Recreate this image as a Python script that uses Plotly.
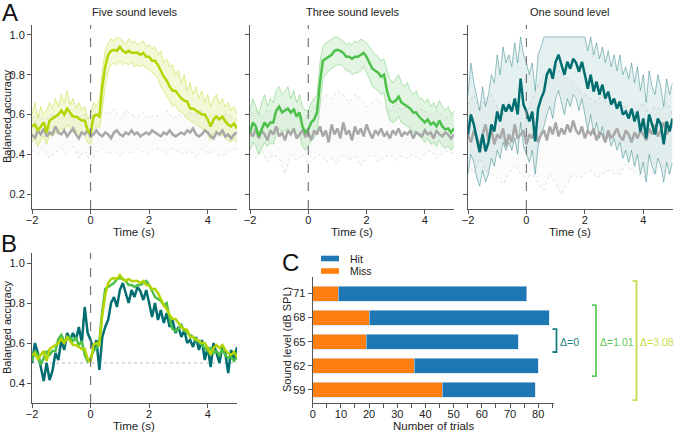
import numpy as np
import plotly.graph_objects as go

# time grids (s)
t = np.round(np.linspace(-2, 5, 71), 2)
t2 = np.round(np.linspace(-2, 5, 36), 2)

# mean balanced accuracy, one array per condition
five_mean = [0.54, 0.55, 0.52, 0.54, 0.56, 0.51, 0.57, 0.58, 0.59, 0.60, 0.62,
             0.60, 0.63, 0.61, 0.59, 0.59, 0.58, 0.57, 0.57, 0.52, 0.505,
             0.59, 0.60, 0.59, 0.74, 0.84, 0.90, 0.92, 0.925, 0.92, 0.94,
             0.92, 0.91, 0.92, 0.91, 0.91, 0.91, 0.90, 0.91, 0.89, 0.89,
             0.87, 0.87, 0.85, 0.82, 0.79, 0.77, 0.74, 0.72, 0.72, 0.70,
             0.68, 0.67, 0.665, 0.63, 0.63, 0.62, 0.61, 0.60, 0.60, 0.575,
             0.54, 0.575, 0.59, 0.575, 0.59, 0.565, 0.55, 0.54, 0.555, 0.53]
three_mean = [0.51, 0.56, 0.54, 0.49, 0.525, 0.56, 0.54, 0.56, 0.56, 0.62, 0.64,
              0.61, 0.62, 0.63, 0.61, 0.625, 0.59, 0.61, 0.54, 0.51, 0.525,
              0.56, 0.575, 0.61, 0.76, 0.87, 0.88, 0.89, 0.90, 0.92, 0.925,
              0.92, 0.91, 0.89, 0.89, 0.88, 0.89, 0.89, 0.90, 0.91, 0.89,
              0.86, 0.83, 0.82, 0.81, 0.79, 0.80, 0.72, 0.67, 0.66, 0.67,
              0.69, 0.66, 0.65, 0.64, 0.63, 0.61, 0.61, 0.59, 0.575, 0.56,
              0.575, 0.55, 0.56, 0.54, 0.57, 0.54, 0.525, 0.53, 0.51, 0.53]
one_mean = [0.50, 0.60, 0.55, 0.48, 0.41, 0.50, 0.415, 0.46, 0.55, 0.515, 0.615,
            0.565, 0.65, 0.615, 0.65, 0.615, 0.68, 0.60, 0.78, 0.65, 0.615,
            0.565, 0.615, 0.465, 0.63, 0.68, 0.715, 0.80, 0.83, 0.78, 0.865,
            0.90, 0.85, 0.80, 0.865, 0.83, 0.88, 0.86, 0.815, 0.865, 0.80,
            0.73, 0.80, 0.715, 0.765, 0.70, 0.75, 0.68, 0.715, 0.65, 0.68,
            0.63, 0.665, 0.60, 0.615, 0.58, 0.63, 0.565, 0.615, 0.515, 0.58,
            0.48, 0.60, 0.55, 0.50, 0.58, 0.55, 0.45, 0.565, 0.515, 0.58]

# shuffled-label means
gray_five = [0.50, 0.48, 0.52, 0.50, 0.53, 0.49, 0.51, 0.50, 0.54, 0.51,
             0.50, 0.52, 0.49, 0.51, 0.53, 0.50, 0.48, 0.51, 0.50, 0.52,
             0.49, 0.50, 0.52, 0.50, 0.49, 0.51, 0.50, 0.48, 0.51, 0.52,
             0.50, 0.49, 0.51, 0.50, 0.52, 0.50, 0.51, 0.49, 0.50, 0.51,
             0.50, 0.52, 0.51, 0.50, 0.49, 0.51, 0.50, 0.52, 0.50, 0.49,
             0.50, 0.51, 0.50, 0.52, 0.51, 0.53, 0.50, 0.49, 0.50, 0.52,
             0.51, 0.49, 0.48, 0.51, 0.50, 0.52, 0.49, 0.50, 0.48, 0.50, 0.51]
gray_three = [0.51, 0.49, 0.53, 0.48, 0.52, 0.50, 0.47, 0.52, 0.50, 0.54,
              0.49, 0.51, 0.47, 0.52, 0.50, 0.53, 0.48, 0.50, 0.52, 0.49,
              0.51, 0.47, 0.52, 0.50, 0.54, 0.49, 0.52, 0.46, 0.55, 0.50,
              0.53, 0.48, 0.56, 0.50, 0.52, 0.47, 0.54, 0.50, 0.53, 0.49,
              0.55, 0.51, 0.48, 0.52, 0.50, 0.53, 0.49, 0.51, 0.48, 0.52,
              0.50, 0.53, 0.49, 0.51, 0.50, 0.52, 0.48, 0.51, 0.50, 0.49,
              0.52, 0.50, 0.51, 0.48, 0.52, 0.50, 0.49, 0.51, 0.50, 0.48, 0.50]
gray_one = [0.50, 0.46, 0.52, 0.48, 0.44, 0.50, 0.55, 0.47, 0.52, 0.45,
            0.50, 0.48, 0.53, 0.44, 0.50, 0.46, 0.55, 0.48, 0.50, 0.52,
            0.45, 0.50, 0.48, 0.53, 0.46, 0.50, 0.52, 0.47, 0.54, 0.50,
            0.56, 0.49, 0.53, 0.50, 0.55, 0.51, 0.57, 0.52, 0.50, 0.54,
            0.48, 0.52, 0.50, 0.53, 0.47, 0.51, 0.50, 0.46, 0.52, 0.48,
            0.50, 0.53, 0.49, 0.47, 0.52, 0.50, 0.46, 0.51, 0.48, 0.52,
            0.50, 0.47, 0.53, 0.50, 0.55, 0.49, 0.52, 0.56, 0.50, 0.53, 0.55]

# spread of the single runs (upper / lower envelopes)
five_hi = [0.60, 0.66, 0.58, 0.64, 0.60, 0.62, 0.66, 0.63, 0.68, 0.64, 0.70,
           0.66, 0.72, 0.65, 0.68, 0.63, 0.66, 0.62, 0.64, 0.58, 0.60,
           0.66, 0.64, 0.68, 0.82, 0.92, 0.96, 0.98, 0.97, 0.99, 0.98,
           0.97, 0.95, 0.98, 0.96, 0.97, 0.95, 0.96, 0.97, 0.94, 0.95,
           0.93, 0.94, 0.90, 0.92, 0.86, 0.88, 0.84, 0.85, 0.80, 0.82,
           0.76, 0.80, 0.72, 0.76, 0.70, 0.74, 0.68, 0.72, 0.66, 0.70,
           0.64, 0.68, 0.70, 0.65, 0.68, 0.64, 0.66, 0.62, 0.64, 0.60]
five_lo = [0.46, 0.48, 0.44, 0.47, 0.49, 0.45, 0.50, 0.49, 0.51, 0.50, 0.53,
           0.52, 0.55, 0.53, 0.51, 0.52, 0.50, 0.51, 0.49, 0.46, 0.45,
           0.52, 0.54, 0.53, 0.62, 0.74, 0.82, 0.85, 0.86, 0.85, 0.87,
           0.85, 0.86, 0.85, 0.86, 0.84, 0.85, 0.84, 0.85, 0.83, 0.83,
           0.81, 0.80, 0.78, 0.74, 0.72, 0.69, 0.67, 0.64, 0.65, 0.62,
           0.61, 0.60, 0.58, 0.57, 0.56, 0.55, 0.54, 0.53, 0.52, 0.50,
           0.47, 0.51, 0.52, 0.49, 0.50, 0.48, 0.47, 0.46, 0.48, 0.46]
three_hi = [0.62, 0.68, 0.64, 0.60, 0.66, 0.70, 0.64, 0.68, 0.66, 0.72, 0.74,
            0.70, 0.72, 0.74, 0.68, 0.72, 0.66, 0.70, 0.64, 0.62, 0.62,
            0.66, 0.68, 0.70, 0.86, 0.94, 0.96, 0.97, 0.98, 0.99, 0.99,
            0.98, 0.97, 0.95, 0.96, 0.95, 0.97, 0.96, 0.98, 0.97, 0.96,
            0.94, 0.92, 0.90, 0.89, 0.87, 0.88, 0.82, 0.78, 0.76, 0.78,
            0.80, 0.76, 0.74, 0.76, 0.72, 0.70, 0.72, 0.68, 0.68, 0.66,
            0.68, 0.64, 0.66, 0.63, 0.67, 0.64, 0.62, 0.64, 0.60, 0.62]
three_lo = [0.42, 0.46, 0.44, 0.40, 0.43, 0.46, 0.44, 0.46, 0.45, 0.50, 0.53,
            0.51, 0.52, 0.53, 0.50, 0.52, 0.49, 0.50, 0.44, 0.42, 0.44,
            0.47, 0.48, 0.52, 0.64, 0.78, 0.80, 0.82, 0.83, 0.84, 0.85,
            0.85, 0.84, 0.82, 0.82, 0.80, 0.81, 0.81, 0.82, 0.84, 0.81,
            0.78, 0.74, 0.73, 0.72, 0.70, 0.71, 0.62, 0.57, 0.56, 0.57,
            0.59, 0.56, 0.55, 0.54, 0.53, 0.51, 0.51, 0.49, 0.48, 0.46,
            0.48, 0.45, 0.46, 0.44, 0.47, 0.44, 0.43, 0.44, 0.42, 0.44]
one_hi = [0.70, 0.86, 0.76, 0.68, 0.62, 0.74, 0.64, 0.70, 0.80, 0.76, 0.90,
          0.80, 0.94, 0.86, 0.90, 0.84, 0.96, 0.86, 0.99, 0.90, 0.86,
          0.80, 0.86, 0.72, 0.90, 0.94, 0.99, 0.99, 0.99, 0.99, 0.99,
          0.99, 0.99, 0.99, 0.99, 0.99, 0.99, 0.99, 0.99, 0.99, 0.99,
          0.92, 0.99, 0.90, 0.96, 0.88, 0.94, 0.86, 0.92, 0.84, 0.90,
          0.82, 0.90, 0.80, 0.84, 0.78, 0.86, 0.76, 0.84, 0.72, 0.80,
          0.66, 0.82, 0.74, 0.70, 0.80, 0.74, 0.64, 0.78, 0.70, 0.76]
one_lo = [0.30, 0.40, 0.36, 0.28, 0.24, 0.32, 0.26, 0.30, 0.38, 0.34, 0.42,
          0.38, 0.46, 0.42, 0.46, 0.42, 0.48, 0.40, 0.56, 0.44, 0.40,
          0.36, 0.42, 0.30, 0.44, 0.50, 0.54, 0.60, 0.64, 0.58, 0.68,
          0.72, 0.66, 0.60, 0.68, 0.64, 0.70, 0.68, 0.62, 0.68, 0.60,
          0.52, 0.60, 0.50, 0.56, 0.48, 0.54, 0.46, 0.50, 0.44, 0.48,
          0.42, 0.46, 0.38, 0.42, 0.36, 0.42, 0.34, 0.40, 0.30, 0.36,
          0.26, 0.40, 0.34, 0.30, 0.38, 0.34, 0.26, 0.36, 0.30, 0.36]
# shuffled single runs, coarser grid
five_ghi = [0.58, 0.60, 0.57, 0.59, 0.60, 0.58, 0.61, 0.57, 0.59, 0.60,
            0.56, 0.60, 0.62, 0.60, 0.63, 0.58, 0.62, 0.60, 0.59, 0.61,
            0.58, 0.60, 0.59, 0.62, 0.58, 0.60, 0.59, 0.61, 0.60, 0.62,
            0.59, 0.60, 0.58, 0.60, 0.59, 0.57]
five_glo = [0.42, 0.40, 0.43, 0.38, 0.41, 0.43, 0.40, 0.44, 0.38, 0.42,
            0.36, 0.41, 0.43, 0.40, 0.42, 0.39, 0.42, 0.40, 0.43, 0.41,
            0.40, 0.43, 0.42, 0.40, 0.43, 0.41, 0.40, 0.42, 0.38, 0.43,
            0.40, 0.42, 0.39, 0.40, 0.42, 0.43]
three_ghi = [0.60, 0.62, 0.58, 0.63, 0.60, 0.62, 0.64, 0.60, 0.63, 0.58,
             0.60, 0.64, 0.66, 0.70, 0.68, 0.72, 0.70, 0.66, 0.70, 0.68,
             0.64, 0.66, 0.68, 0.64, 0.62, 0.66, 0.62, 0.64, 0.60, 0.63,
             0.62, 0.60, 0.62, 0.60, 0.58, 0.60]
three_glo = [0.40, 0.38, 0.42, 0.36, 0.40, 0.38, 0.30, 0.40, 0.37, 0.40,
             0.35, 0.38, 0.40, 0.36, 0.38, 0.35, 0.40, 0.37, 0.39, 0.34,
             0.38, 0.40, 0.36, 0.38, 0.40, 0.37, 0.39, 0.38, 0.40, 0.37,
             0.40, 0.42, 0.38, 0.40, 0.42, 0.40]
one_ghi = [0.65, 0.70, 0.62, 0.68, 0.70, 0.64, 0.60, 0.66, 0.62, 0.70,
           0.60, 0.68, 0.75, 0.80, 0.82, 0.85, 0.80, 0.78, 0.76, 0.72,
           0.70, 0.68, 0.66, 0.70, 0.64, 0.66, 0.62, 0.64, 0.60, 0.62,
           0.66, 0.60, 0.64, 0.62, 0.66, 0.60]
one_glo = [0.35, 0.30, 0.38, 0.32, 0.30, 0.28, 0.25, 0.30, 0.35, 0.30,
           0.28, 0.30, 0.25, 0.22, 0.30, 0.25, 0.20, 0.25, 0.30, 0.28,
           0.30, 0.32, 0.28, 0.30, 0.32, 0.30, 0.30, 0.35, 0.32, 0.30,
           0.28, 0.32, 0.30, 0.35, 0.30, 0.32]

# panel C: trials per sound level
levels = ["59", "62", "65", "68", "71"]
miss = [46, 36, 19, 20, 9]
hit = [33, 44, 54, 64, 67]
delta_text = ["Δ=0", "Δ=1.01", "Δ=3.08"]
delta_span = [("65", "65"), ("62", "68"), ("59", "71")]

for a in [five_mean, three_mean, one_mean, gray_five, gray_three, gray_one,
          five_hi, five_lo, three_hi, three_lo, one_hi, one_lo]:
    assert len(a) == 71, len(a)
for a in [five_ghi, five_glo, three_ghi, three_glo, one_ghi, one_glo]:
    assert len(a) == 36, len(a)

C5 = "#b4d400"
C3 = "#4cc04a"
C1 = "#006e70"
GR = "#a8a8a8"
BLUE = "#1f77b4"
ORANGE = "#ff7f0e"
W, H = 674, 432
FONT = "Liberation Sans, Arial, sans-serif"


def px(x):
    return x / W


def py(y):
    return 1 - y / H


def rgba(hexc, a):
    h = hexc.lstrip("#")
    return "rgba(%d,%d,%d,%s)" % (int(h[0:2], 16), int(h[2:4], 16), int(h[4:6], 16), a)


fig = go.Figure()

panels = [
    ("x", "y", five_mean, five_hi, five_lo, gray_five, five_ghi, five_glo, C5, 0.16),
    ("x2", "y2", three_mean, three_hi, three_lo, gray_three, three_ghi, three_glo, C3, 0.16),
    ("x3", "y3", one_mean, one_hi, one_lo, gray_one, one_ghi, one_glo, C1, 0.10),
]
for xa, ya, m, hi, lo, g, ghi, glo, col, fa in panels:
    fig.add_trace(go.Scatter(x=t2, y=ghi, xaxis=xa, yaxis=ya, mode="lines",
                             line=dict(color="rgba(205,205,205,0.8)", width=0.8, dash="dot")))
    fig.add_trace(go.Scatter(x=t2, y=glo, xaxis=xa, yaxis=ya, mode="lines", fill="tonexty",
                             fillcolor="rgba(220,220,220,0.12)",
                             line=dict(color="rgba(205,205,205,0.8)", width=0.8, dash="dot")))
    fig.add_trace(go.Scatter(x=t, y=hi, xaxis=xa, yaxis=ya, mode="lines",
                             line=dict(color=rgba(col, 0.45), width=0.9)))
    fig.add_trace(go.Scatter(x=t, y=lo, xaxis=xa, yaxis=ya, mode="lines", fill="tonexty",
                             fillcolor=rgba(col, fa), line=dict(color=rgba(col, 0.45), width=0.9)))
    fig.add_trace(go.Scatter(x=t, y=g, xaxis=xa, yaxis=ya, mode="lines",
                             line=dict(color=GR, width=2.5)))
    fig.add_trace(go.Scatter(x=t, y=m, xaxis=xa, yaxis=ya, mode="lines",
                             line=dict(color=col, width=2.5)))

# panel B: the three means together
for m, col in [(one_mean, C1), (three_mean, C3), (five_mean, C5)]:
    fig.add_trace(go.Scatter(x=t, y=m, xaxis="x4", yaxis="y4", mode="lines",
                             line=dict(color=col, width=2.5)))

# panel C
fig.add_trace(go.Bar(y=levels, x=miss, name="Miss", orientation="h", xaxis="x5", yaxis="y5",
                     marker=dict(color=ORANGE, line=dict(color="#c9dcee", width=0.6))))
fig.add_trace(go.Bar(y=levels, x=hit, name="Hit", orientation="h", xaxis="x5", yaxis="y5",
                     marker=dict(color=BLUE, line=dict(color="#c9dcee", width=0.6))))

for tr in fig.data:
    tr.showlegend = False
    tr.hoverinfo = "skip"

ax_common = dict(showline=True, linecolor="#555", linewidth=1, ticks="outside", ticklen=4,
                 tickcolor="#555", showgrid=False, zeroline=False, automargin=False,
                 tickfont=dict(size=11, color="#222", family=FONT))

time_ax = dict(ax_common, range=[-2, 5], tickvals=[-2, 0, 2, 4], ticklabelstandoff=-3)
accA = dict(ax_common, range=[0.125, 1.05], tickvals=[0.2, 0.4, 0.6, 0.8, 1.0], tickformat=".1f")

yA_top, yA_bot = py(25), py(209)
fig.update_layout(
    width=W, height=H, margin=dict(l=0, r=0, t=0, b=0),
    paper_bgcolor="white", plot_bgcolor="white",
    font=dict(family=FONT, size=11, color="#222"),
    barmode="stack", bargap=0.38, showlegend=False,
    xaxis=dict(time_ax, domain=[px(32), px(237)], anchor="y"),
    yaxis=dict(accA, domain=[yA_bot, yA_top], anchor="x"),
    xaxis2=dict(time_ax, domain=[px(250), px(454)], anchor="y2"),
    yaxis2=dict(accA, domain=[yA_bot, yA_top], anchor="x2", showticklabels=False),
    xaxis3=dict(time_ax, domain=[px(468), px(672.5)], anchor="y3"),
    yaxis3=dict(accA, domain=[yA_bot, yA_top], anchor="x3", showticklabels=False),
    xaxis4=dict(time_ax, domain=[px(32), px(237)], anchor="y4"),
    yaxis4=dict(ax_common, range=[0.3, 1.05], tickvals=[0.4, 0.6, 0.8, 1.0], tickformat=".1f",
                domain=[py(403), py(253)], anchor="x4"),
    xaxis5=dict(ax_common, range=[0, 85.5], dtick=10, domain=[px(312.7), px(553.7)], anchor="y5",
                ticklabelstandoff=-3,
                minor=dict(dtick=5, ticks="outside", ticklen=4, tickcolor="#555")),
    yaxis5=dict(ax_common, type="category", categoryorder="array", categoryarray=levels,
                range=[-0.55, 4.69], domain=[py(403), py(277)], anchor="x5"),
)

shapes = []
for xa, ya in [("x", "y"), ("x2", "y2"), ("x3", "y3"), ("x4", "y4")]:
    shapes.append(dict(type="line", xref=xa, yref=ya + " domain", x0=0, x1=0, y0=0, y1=1,
                       line=dict(color="#777", width=1.2, dash="dash")))
shapes.append(dict(type="line", xref="x4", yref="y4", x0=-2, x1=5, y0=0.5, y1=0.5, layer="below",
                   line=dict(color="#bbb", width=1.2, dash="dot")))

# legend patches for panel C
for i, col in enumerate([BLUE, ORANGE]):
    yc = 258.5 + i * 12.5
    shapes.append(dict(type="rect", xref="paper", yref="paper", x0=px(321), x1=px(339),
                       y0=py(yc + 2.8), y1=py(yc - 2.8), fillcolor=col, line=dict(width=0)))

# brackets next to panel C
br_x = [556.5, 596, 636.5]
br_col = ["#1c7f80", "#62c95e", "#c6de4e"]
for (lo_lv, hi_lv), bx, bc in zip(delta_span, br_x, br_col):
    y_top = levels.index(hi_lv) + 0.52
    y_bot = levels.index(lo_lv) - 0.43
    xa, xv = px(bx - 4), px(bx)
    shapes.append(dict(type="path", xref="paper", yref="y5",
                       path="M %f,%f L %f,%f L %f,%f L %f,%f" % (xa, y_top, xv, y_top, xv, y_bot, xa, y_bot),
                       line=dict(color=bc, width=1.8)))
fig.update_layout(shapes=shapes)

ann = []


def text(x, y, s, size=11, color="#222", angle=0, xanchor="center", yanchor="middle", yref="paper"):
    ann.append(dict(x=x, y=y, xref="paper", yref=yref, text=s, showarrow=False, textangle=angle,
                    xanchor=xanchor, yanchor=yanchor, font=dict(size=size, color=color, family=FONT)))


text(px(134), py(12), "Five sound levels")
text(px(352), py(12), "Three sound levels")
text(px(570), py(12), "One sound level")
for cx in [134, 352, 570]:
    text(px(cx), py(232), "Time (s)", size=11.5)
text(px(134), py(425.5), "Time (s)", size=11.5)
text(px(433), py(425.5), "Number of trials", size=11.5)
text(px(7), py(117), "Balanced accuracy", angle=-90)
text(px(7), py(328), "Balanced accuracy", angle=-90)
text(px(287), py(340), "Sound level (dB SPL)", angle=-90)
text(px(10), py(13), "A", size=24, color="#111")
text(px(9), py(243), "B", size=24, color="#111")
text(px(290), py(262), "C", size=24, color="#111")
text(px(348), py(258.5), "Hit", size=10.5, xanchor="left")
text(px(348), py(271), "Miss", size=10.5, xanchor="left")
for s, bx, bc in zip(delta_text, br_x, br_col):
    text(px(bx + 1.5), 2, s, size=10.5, color=bc, xanchor="left", yref="y5")
fig.update_layout(annotations=ann)

fig.write_html("out.html", config={"displayModeBar": False},
               post_script="document.body.style.margin='0';")
